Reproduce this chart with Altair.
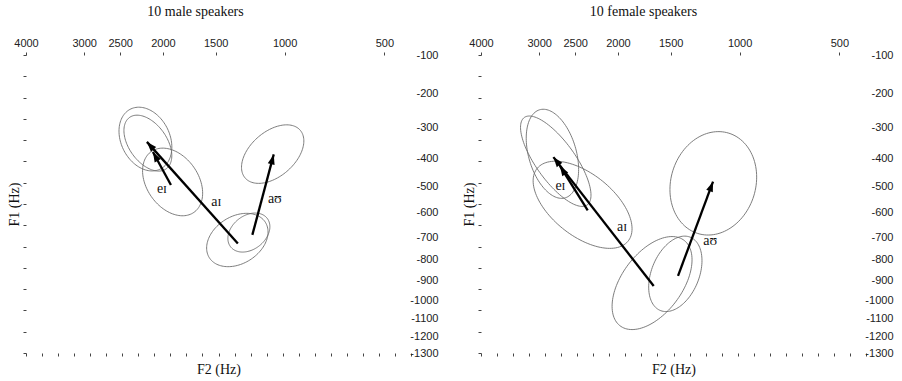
import math
import numpy as np
import pandas as pd
import altair as alt

SANS = "Liberation Sans"
SERIF = "Liberation Serif"

# Formant axes are warped with symmetric-log scales (constants in Hz)
F2_CONST = 400
F1_CONST = 700
F2_DOMAIN = [400, 4000]
F1_DOMAIN = [100, 1300]
F2_TICKS = [4000, 3000, 2500, 2000, 1500, 1000, 500]
F1_TICKS = [100, 200, 300, 400, 500, 600, 700, 800, 900, 1000, 1100, 1200, 1300]

PANEL_W, PANEL_H = 385, 298

# ---- distribution ellipses: mean F2/F1 (Hz), spread on the warped axes, F2-F1 correlation
ell_vowel = ["eɪ", "eɪ", "aɪ", "aɪ", "aʊ", "aʊ"]
ell_phase = ["onset", "offset", "onset", "offset", "onset", "offset"]

male_ell_f2 = [1899, 2165, 1326, 2193, 1240, 1076]
male_ell_f1 = [482, 349, 713, 336, 681, 385]
male_ell_s2 = [0.133, 0.106, 0.136, 0.117, 0.093, 0.138]
male_ell_s1 = [0.104, 0.086, 0.082, 0.098, 0.060, 0.090]
male_ell_rho = [-0.33, -0.45, 0.30, -0.25, 0.30, 0.45]

female_ell_f2 = [2406, 2807, 1663, 2760, 1461, 1173]
female_ell_f1 = [568, 384, 913, 409, 868, 487]
female_ell_s2 = [0.219, 0.116, 0.177, 0.156, 0.118, 0.192]
female_ell_s1 = [0.134, 0.137, 0.143, 0.139, 0.116, 0.159]
female_ell_rho = [-0.55, -0.35, 0.50, -0.75, 0.35, 0.12]

# ---- diphthong trajectories: onset -> offset means (Hz)
diphthongs = ["eɪ", "aɪ", "aʊ"]
male_on_f2 = [1916, 1322, 1215]
male_on_f1 = [493, 728, 691]
male_off_f2 = [2108, 2176, 1069]
male_off_f1 = [378, 345, 386]

female_on_f2 = [2343, 1648, 1439]
female_on_f1 = [590, 928, 878]
female_off_f2 = [2702, 2793, 1175]
female_off_f1 = [425, 395, 481]

# ---- label anchors (Hz)
male_lab_f2 = [2010, 1494, 1062]
male_lab_f1 = [508, 559, 544]
female_lab_f2 = [2695, 1956, 1194]
female_lab_f1 = [497, 656, 716]

# ---- evenly spaced frame ticks along the bottom and left edges
BOTTOM_TICKS = list(range(25))
LEFT_TICKS = list(range(15))


def warp(f, c):
    return np.log1p(np.asarray(f, dtype=float) / c)


def unwarp(w, c):
    return c * np.expm1(w)


def ellipse_frame(f2, f1, s2, s1, rho):
    t = np.linspace(0, 2 * np.pi, 121)
    rows = []
    for i in range(len(f2)):
        u0 = warp(f2[i], F2_CONST)
        v0 = warp(f1[i], F1_CONST)
        r = rho[i]
        u = u0 + s2[i] * np.cos(t)
        v = v0 + s1[i] * (r * np.cos(t) + math.sqrt(1 - r * r) * np.sin(t))
        for k in range(len(t)):
            rows.append({
                "id": f"{ell_vowel[i]}-{ell_phase[i]}",
                "k": k,
                "F2": float(unwarp(u[k], F2_CONST)),
                "F1": float(unwarp(v[k], F1_CONST)),
            })
    return pd.DataFrame(rows)


def arrow_frame(on_f2, on_f1, off_f2, off_f1):
    sx = PANEL_W / float(warp(F2_DOMAIN[1], F2_CONST) - warp(F2_DOMAIN[0], F2_CONST))
    sy = PANEL_H / float(warp(F1_DOMAIN[1], F1_CONST) - warp(F1_DOMAIN[0], F1_CONST))
    rows = []
    for i, name in enumerate(diphthongs):
        # screen direction: F2 grows leftward, F1 grows downward
        dx = -float(warp(off_f2[i], F2_CONST) - warp(on_f2[i], F2_CONST)) * sx
        dy = float(warp(off_f1[i], F1_CONST) - warp(on_f1[i], F1_CONST)) * sy
        ang = math.degrees(math.atan2(dx, -dy)) % 360
        rows.append({"name": name, "F2": on_f2[i], "F1": on_f1[i],
                     "F2_end": off_f2[i], "F1_end": off_f1[i], "angle": ang})
    return pd.DataFrame(rows)


def xenc(field):
    return alt.X(
        f"{field}:Q",
        scale=alt.Scale(type="symlog", constant=F2_CONST, domain=F2_DOMAIN,
                        reverse=True, zero=False, nice=False),
        axis=alt.Axis(orient="top", values=F2_TICKS, format="d", title=None,
                      domain=False, grid=False, tickSize=3, tickColor="#444",
                      labelFont=SANS, labelFontSize=11, labelColor="#222",
                      labelPadding=4, labelFlush=False, labelOverlap=False),
    )


def yenc(field):
    return alt.Y(
        f"{field}:Q",
        scale=alt.Scale(type="symlog", constant=F1_CONST, domain=F1_DOMAIN,
                        reverse=True, zero=False, nice=False),
        axis=alt.Axis(orient="right", values=F1_TICKS, format="d",
                      labelExpr="'-' + datum.label", title=None,
                      domain=False, grid=False, ticks=False,
                      labelFont=SANS, labelFontSize=11, labelColor="#222",
                      labelAlign="right", labelPadding=27,
                      labelFlush=False, labelOverlap=False),
    )


def panel(title, dx, ell, arr, lab):
    ellipses = alt.Chart(ell).mark_line(color="#6e6e6e", strokeWidth=0.9).encode(
        x=xenc("F2"), y=yenc("F1"), detail="id:N", order="k:Q"
    )
    shafts = alt.Chart(arr).mark_rule(color="black", strokeWidth=2.3).encode(
        x=xenc("F2"), y=yenc("F1"), x2="F2_end:Q", y2="F1_end:Q"
    )
    heads = alt.Chart(arr).mark_point(
        shape="M0,0L-0.7,2L0.7,2Z", filled=True, size=100, color="black", opacity=1
    ).encode(x=xenc("F2_end"), y=yenc("F1_end"), angle=alt.Angle("angle:Q", scale=None))
    names = alt.Chart(lab).mark_text(font=SERIF, fontSize=14, color="#111").encode(
        x=xenc("F2"), y=yenc("F1"), text="name:N"
    )
    main = alt.layer(ellipses, shafts, heads, names)

    frame = pd.DataFrame({"gx": [BOTTOM_TICKS[0], BOTTOM_TICKS[-1]],
                          "gy": [LEFT_TICKS[0], LEFT_TICKS[-1]]})
    edge = alt.Chart(frame).mark_point(opacity=0).encode(
        x=alt.X("gx:Q",
                scale=alt.Scale(domain=[BOTTOM_TICKS[0], BOTTOM_TICKS[-1]], nice=False, zero=False),
                axis=alt.Axis(orient="bottom", values=BOTTOM_TICKS, labels=False, domain=False,
                              grid=False, tickSize=3, tickColor="#444", title="F2 (Hz)",
                              titleFont=SERIF, titleFontSize=14, titleFontWeight="normal",
                              titleColor="#111", titlePadding=6)),
        y=alt.Y("gy:Q",
                scale=alt.Scale(domain=[LEFT_TICKS[0], LEFT_TICKS[-1]], nice=False, zero=False),
                axis=alt.Axis(orient="left", values=LEFT_TICKS, labels=False, domain=False,
                              grid=False, tickSize=3, tickColor="#444", title="F1 (Hz)",
                              titleFont=SERIF, titleFontSize=14, titleFontWeight="normal",
                              titleColor="#111", titlePadding=1)),
    )
    return alt.layer(main, edge).resolve_scale(x="independent", y="independent").properties(
        width=PANEL_W, height=PANEL_H,
        title=alt.TitleParams(title, font=SERIF, fontSize=14, fontWeight="normal",
                              color="#111", anchor="middle", frame="group", dx=dx, offset=18),
    )


def labels_frame(f2, f1):
    return pd.DataFrame({"name": diphthongs, "F2": f2, "F1": f1})


left = panel(
    "10 male speakers", -23,
    ellipse_frame(male_ell_f2, male_ell_f1, male_ell_s2, male_ell_s1, male_ell_rho),
    arrow_frame(male_on_f2, male_on_f1, male_off_f2, male_off_f1),
    labels_frame(male_lab_f2, male_lab_f1),
)
right = panel(
    "10 female speakers", -30,
    ellipse_frame(female_ell_f2, female_ell_f1, female_ell_s2, female_ell_s1, female_ell_rho),
    arrow_frame(female_on_f2, female_on_f1, female_off_f2, female_off_f1),
    labels_frame(female_lab_f2, female_lab_f1),
)

chart = alt.hconcat(left, right, spacing=24).properties(
    padding={"left": 7, "top": 5, "right": 5, "bottom": 5},
    background="white",
).configure_view(stroke=None)

chart.save("out.html", embed_options={"renderer": "svg", "actions": False})
